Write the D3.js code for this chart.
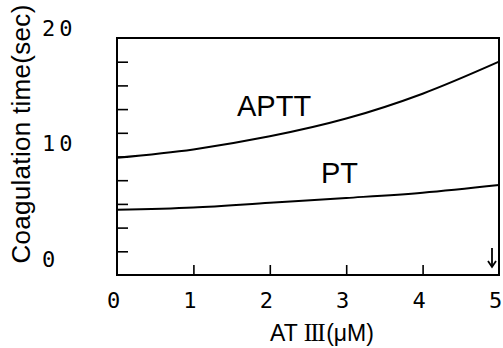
<!DOCTYPE html>
<html>
<head>
<meta charset="utf-8">
<script src="https://cdn.jsdelivr.net/npm/d3@7"></script>
<style>
  body { margin: 0; background: #fff; }
  svg { display: block; }
</style>
</head>
<body>
<script>
const width = 503;
const height = 348;

// values
const doses = [0, 1, 2, 3, 4, 5];
const aptt = [9.9, 10.6, 11.7, 13.2, 15.3, 18.0];
const pt = [5.5, 5.7, 6.1, 6.5, 6.95, 7.6];
const xTickLabels = [0, 1, 2, 3, 4, 5];
const yTickLabels = [0, 10, 20];

const margin = { top: 38, right: 4, bottom: 73, left: 117 };

const svg = d3.select('body').append('svg')
  .attr('width', width)
  .attr('height', height);

const x = d3.scaleLinear().domain([0, 5]).range([margin.left, width - margin.right]);
const y = d3.scaleLinear().domain([0, 20]).range([height - margin.bottom, margin.top]);
// labels sit a bit above their ticks in the original
const yLab = d3.scaleLinear().domain([0, 20]).range([y(0) - 15.5, y(20) - 10]);

const mono = "'DejaVu Sans Mono', monospace";
const sans = "'Liberation Sans', Arial, sans-serif";

// frame
svg.append('rect')
  .attr('x', x(0)).attr('y', y(20))
  .attr('width', x(5) - x(0)).attr('height', y(0) - y(20))
  .attr('fill', 'none').attr('stroke', '#000').attr('stroke-width', 2);

// inner ticks
svg.append('g')
  .attr('transform', `translate(${x(0)},0)`)
  .call(d3.axisRight(y).tickValues(d3.range(2, 20, 2)).tickSize(11).tickFormat(''))
  .call(g => g.select('.domain').remove())
  .selectAll('line').attr('stroke-width', 1.6);

svg.append('g')
  .attr('transform', `translate(0,${y(0)})`)
  .call(d3.axisTop(x).tickValues([1, 2, 3, 4]).tickSize(10).tickFormat(''))
  .call(g => g.select('.domain').remove())
  .selectAll('line').attr('stroke-width', 1.6);

// tick labels
svg.append('g')
  .attr('transform', `translate(0,${y(0) + 14})`)
  .call(d3.axisBottom(x).tickValues(xTickLabels).tickSize(0).tickFormat(d3.format('d')))
  .call(g => g.select('.domain').remove())
  .selectAll('text')
  .attr('dx', -4)
  .attr('font-family', mono).attr('font-size', 22).attr('fill', '#000');

svg.append('g')
  .attr('transform', `translate(42,0)`)
  .call(d3.axisRight(yLab).tickValues(yTickLabels).tickSize(0).tickPadding(0).tickFormat(d3.format('d')))
  .call(g => g.select('.domain').remove())
  .selectAll('text')
  .attr('letter-spacing', 4)
  .attr('font-family', mono).attr('font-size', 22).attr('fill', '#000');

// curves
const line = d3.line()
  .x(d => x(d[0]))
  .y(d => y(d[1]))
  .curve(d3.curveCatmullRom);

[aptt, pt].forEach(series => {
  svg.append('path')
    .datum(doses.map((d, i) => [d, series[i]]))
    .attr('d', line)
    .attr('fill', 'none')
    .attr('stroke', '#000')
    .attr('stroke-width', 2);
});

// curve labels
svg.append('text')
  .attr('x', 237).attr('y', 116)
  .attr('font-family', sans).attr('font-size', 29)
  .text('APTT');

svg.append('text')
  .attr('x', 321).attr('y', 183)
  .attr('font-family', sans).attr('font-size', 29)
  .text('PT');

// arrow at 5 µM
const ax = x(5) - 7;
svg.append('line')
  .attr('x1', ax).attr('x2', ax)
  .attr('y1', y(0) - 27).attr('y2', y(0) - 9)
  .attr('stroke', '#000').attr('stroke-width', 1.8);
svg.append('path')
  .attr('d', `M${ax - 4},${y(0) - 14} L${ax},${y(0) - 8} L${ax + 4},${y(0) - 14}`)
  .attr('fill', 'none').attr('stroke', '#000').attr('stroke-width', 1.8);

// axis titles
const xt = svg.append('text')
  .attr('x', 322).attr('y', 341)
  .attr('text-anchor', 'middle')
  .attr('font-family', sans).attr('font-size', 23);
xt.append('tspan').text('AT ');
xt.append('tspan')
  .attr('font-family', "'Liberation Serif', serif")
  .attr('font-size', 25)
  .attr('letter-spacing', -1.5)
  .text('III');
xt.append('tspan').attr('dx', 2).text('(μM)');

svg.append('text')
  .attr('transform', `translate(30,134) rotate(-90)`)
  .attr('text-anchor', 'middle')
  .attr('font-family', sans).attr('font-size', 26)
  .attr('letter-spacing', 0.3)
  .text('Coagulation time(sec)');
</script>
</body>
</html>
